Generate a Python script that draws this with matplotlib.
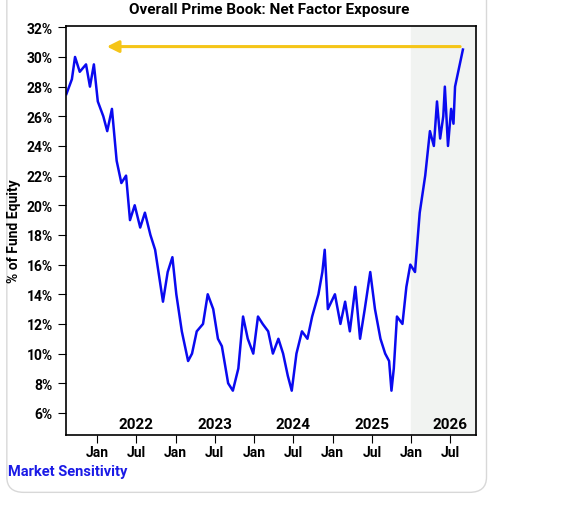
import matplotlib
matplotlib.use("Agg")
import matplotlib.pyplot as plt
from matplotlib.patches import FancyBboxPatch

t = [2021.61,2021.68,2021.72,2021.78,2021.86,2021.91,2021.96,2022.01,2022.08,2022.13,2022.19,2022.25,
     2022.31,2022.37,2022.42,2022.48,2022.55,2022.61,2022.68,2022.74,2022.84,2022.90,2022.96,2023.01,
     2023.08,2023.16,2023.21,2023.27,2023.35,2023.41,2023.48,2023.54,2023.59,2023.67,2023.73,2023.80,
     2023.86,2023.92,2023.99,2024.05,2024.11,2024.18,2024.24,2024.31,2024.37,2024.43,2024.48,2024.54,
     2024.61,2024.68,2024.74,2024.82,2024.87,2024.90,2024.94,2025.03,2025.10,2025.16,2025.22,2025.29,
     2025.35,2025.41,2025.48,2025.54,2025.61,2025.67,2025.72,2025.75,2025.78,2025.82,2025.89,2025.94,
     2025.99,2026.05,2026.11,2026.18,2026.24,2026.29,2026.33,2026.37,2026.41,2026.43,2026.47,2026.51,
     2026.54,2026.56,2026.60,2026.62,2026.66]
exposure = [27.5,28.5,30,29,29.5,28,29.5,27,26,25,26.5,23,
            21.5,22,19,20,18.5,19.5,18,17,13.5,15.5,16.5,14,
            11.5,9.5,10,11.5,12,14,13,11,10.5,8,7.5,9,
            12.5,11,10,12.5,12,11.5,10,11,10,8.5,7.5,10,
            11.5,11,12.5,14,15.5,17,13,14,12,13.5,11.5,14.5,
            11,13,15.5,13,11,10,9.5,7.5,9,12.5,12,14.5,
            16,15.5,19.5,22,25,24,27,24.5,26,28,24,26.5,
            25.5,28,29,29.5,30.5]
years = [2022, 2023, 2024, 2025, 2026]
month_ticks = [2022.0,2022.5,2023.0,2023.5,2024.0,2024.5,2025.0,2025.5,2026.0,2026.5]
month_labels = ["Jan","Jul"]*5

plt.rcParams['font.family'] = ['Roboto', 'DejaVu Sans']
fig = plt.figure(figsize=(5.69, 5.06), dpi=100)
fig.patches.append(FancyBboxPatch((0.012, 0.025), 0.843, 1.1, boxstyle="round,pad=0,rounding_size=0.03",
                                  transform=fig.transFigure, fc="white", ec="#d8d8d8", lw=1, zorder=-5))
ax = fig.add_axes([0.116, 0.138, 0.721, 0.809])
ax.set_xlim(2021.605, 2026.83)
ax.set_ylim(4.5, 32.1)
ax.axvspan(2026.0, 2026.83, color="#f1f3f1", zorder=0)
ax.plot(t, exposure, color="#0a0af0", lw=1.8, zorder=2)
ax.annotate("", xy=(2022.09, 30.7), xytext=(2026.66, 30.7),
            arrowprops=dict(arrowstyle="-|>,head_length=0.7,head_width=0.35", color="#f5c518", lw=2.2))
ax.set_yticks(range(6, 33, 2))
ax.set_yticklabels([f"{v}%" for v in range(6, 33, 2)], fontsize=10, fontweight="bold")
ax.set_xticks(month_ticks)
ax.set_xticklabels(month_labels, fontsize=10, fontweight="bold")
ax.tick_params(axis="x", length=6, pad=1)
ax.tick_params(axis="y", length=6)
for y in years:
    ax.text(y + 0.5, 4.75, str(y), ha="center", va="bottom", fontsize=11, fontweight="bold")
ax.set_ylabel("% of Fund Equity", fontsize=10, fontweight="bold", labelpad=4)
for s in ax.spines.values():
    s.set_linewidth(1.2)
fig.text(0.473, 0.98, "Overall Prime Book: Net Factor Exposure", ha="center", va="center",
         fontsize=11, fontweight="bold")
fig.text(0.014, 0.068, "Market Sensitivity", color="#1a1ae6", fontsize=10.5, fontweight="bold", va="center")
fig.savefig("out.png", dpi=100)
